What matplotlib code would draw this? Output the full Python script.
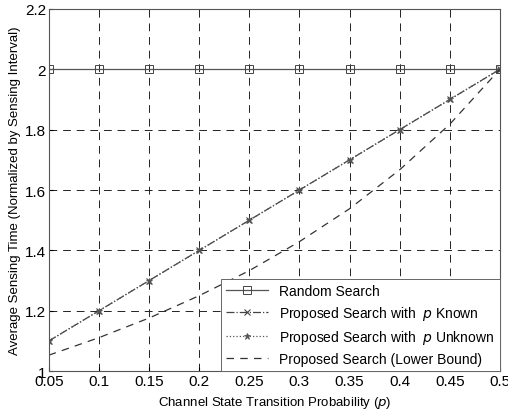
import matplotlib
matplotlib.use('Agg')
import matplotlib.pyplot as plt

plt.rcParams['font.family'] = ['Liberation Sans', 'DejaVu Sans']

# dados
p = [0.05, 0.1, 0.15, 0.2, 0.25, 0.3, 0.35, 0.4, 0.45, 0.5]
random_search = [2.0, 2.0, 2.0, 2.0, 2.0, 2.0, 2.0, 2.0, 2.0, 2.0]
p_known = [1.1, 1.2, 1.3, 1.4, 1.5, 1.6, 1.7, 1.8, 1.9, 2.0]
p_unknown = [1.1, 1.2, 1.3, 1.4, 1.5, 1.6, 1.7, 1.8, 1.9, 2.0]
lower_bound = [1.053, 1.111, 1.176, 1.25, 1.333, 1.429, 1.538, 1.667, 1.818, 2.0]

fig = plt.figure(figsize=(5.08, 4.14), dpi=100)
ax = fig.add_axes([0.096, 0.101, 0.888, 0.875])

ax.plot(p, random_search, color='#555555', lw=0.9, marker='s', markersize=6,
        markerfacecolor='none', markeredgecolor='#444444', markeredgewidth=0.7,
        label='Random Search')
ax.plot(p, p_known, color='#444444', lw=0.9, ls='-.', marker='x', markersize=5,
        markeredgewidth=0.8, label='Proposed Search with  $p$ Known')
ax.plot(p, p_unknown, color='#555555', lw=0.9, ls=':', marker='*', markersize=5,
        markeredgewidth=0.6, label='Proposed Search with  $p$ Unknown')
ax.plot(p, lower_bound, color='#333333', lw=0.9, ls=(0, (6, 5)),
        label='Proposed Search (Lower Bound)')

ax.set_xlim(0.05, 0.5)
ax.set_ylim(1, 2.2)
ax.set_xticks(p)
ax.set_xticklabels(['0.05', '0.1', '0.15', '0.2', '0.25', '0.3', '0.35', '0.4', '0.45', '0.5'])
ax.set_yticks([1, 1.2, 1.4, 1.6, 1.8, 2, 2.2])
ax.set_yticklabels(['1', '1.2', '1.4', '1.6', '1.8', '2', '2.2'])
ax.tick_params(labelsize=11, direction='in', length=3, pad=2)

ax.grid(True, color='#222222', ls=(0, (8, 6)), lw=0.7)

ax.set_xlabel('Channel State Transition Probability ($p$)', fontsize=9.5, labelpad=4)
ax.set_ylabel('Average Sensing Time (Normalized by Sensing Interval)', fontsize=9.5, labelpad=3)

for s in ax.spines.values():
    s.set_color('#555555')
    s.set_linewidth(0.8)

leg = ax.legend(loc='lower right', fontsize=10, frameon=True, fancybox=False,
                edgecolor='#666666', framealpha=1, borderaxespad=0.0,
                handlelength=3.0, labelspacing=0.42)
leg.get_frame().set_linewidth(0.7)

fig.savefig('out.png', dpi=100)
